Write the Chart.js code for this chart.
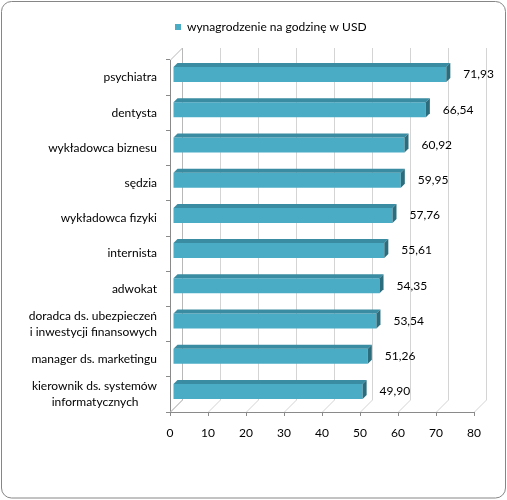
<!DOCTYPE html>
<html>
<head>
<meta charset="utf-8">
<script src="https://cdn.jsdelivr.net/npm/chart.js@4"></script>
<style>
  html, body { margin: 0; padding: 0; background: #fff; }
  #wrap { width: 507px; height: 500px; }
</style>
</head>
<body>
<div id="wrap"><canvas id="c" width="507" height="500"></canvas></div>
<script>
// ---- data ----
const categories = [
  'psychiatra',
  'dentysta',
  'wykładowca biznesu',
  'sędzia',
  'wykładowca fizyki',
  'internista',
  'adwokat',
  ['doradca ds. ubezpieczeń', 'i inwestycji finansowych'],
  'manager ds. marketingu',
  ['kierownik ds. systemów', 'informatycznych\u00A0\u00A0\u00A0\u00A0\u00A0\u00A0']
];
const values = [71.93, 66.54, 60.92, 59.95, 57.76, 55.61, 54.35, 53.54, 51.26, 49.90];
const seriesName = 'wynagrodzenie na godzinę w USD';
const xTicks = [0, 10, 20, 30, 40, 50, 60, 70, 80];

// ---- style ----
const FONT = 'Lato, "Open Sans", "Noto Sans", sans-serif';
const BAR = '#4BACC6', BAR_TOP = '#3A8CA2', BAR_SIDE = '#2B6C7D';
const AXIS = '#8a8a8a', GRID = '#d4d4d4';
const DEPTH_X = 12, DEPTH_Y = 12;   // wall depth
const BAR_DX = 3, BAR_DY = -3;      // bar plane offset
const BAR_D = 4;                    // bar thickness

Chart.defaults.font.family = FONT;
Chart.defaults.font.size = 12;
Chart.defaults.color = '#000';

const frame = {
  id: 'frame',
  beforeDraw(chart) {
    const ctx = chart.ctx;
    ctx.save();
    ctx.fillStyle = '#fff';
    ctx.fillRect(0, 0, chart.width, chart.height);
    ctx.strokeStyle = '#868686';
    ctx.lineWidth = 1;
    ctx.beginPath();
    ctx.roundRect(1.5, 1.5, chart.width - 3, chart.height - 3.5, 10);
    ctx.stroke();
    ctx.restore();
  }
};

const walls = {
  id: 'walls',
  beforeDatasetsDraw(chart) {
    const ctx = chart.ctx, a = chart.chartArea, xs = chart.scales.x;
    ctx.save();
    ctx.lineWidth = 1;
    ctx.strokeStyle = GRID;
    xTicks.forEach(v => {
      const px = Math.round(xs.getPixelForValue(v)) + 0.5;
      ctx.beginPath();
      ctx.moveTo(px, a.bottom);
      ctx.lineTo(px + DEPTH_X, a.bottom - DEPTH_Y);
      ctx.lineTo(px + DEPTH_X, a.top - DEPTH_Y);
      ctx.stroke();
    });
    const x0 = Math.round(xs.getPixelForValue(0)) + 0.5;
    ctx.strokeStyle = '#b8b8b8';
    ctx.beginPath();
    ctx.moveTo(x0, a.top);
    ctx.lineTo(x0 + DEPTH_X, a.top - DEPTH_Y);
    ctx.lineTo(x0 + DEPTH_X, a.bottom - DEPTH_Y);
    ctx.lineTo(x0, a.bottom);
    ctx.stroke();
    ctx.restore();
    ctx.save();
    ctx.translate(BAR_DX, BAR_DY);
  },
  afterDatasetsDraw(chart) {
    const ctx = chart.ctx;
    const meta = chart.getDatasetMeta(0);
    meta.data.forEach(el => {
      const p = el.getProps(['x', 'y', 'base', 'height'], true);
      const t = p.y - p.height / 2, b = p.y + p.height / 2;
      ctx.fillStyle = BAR_TOP;
      ctx.beginPath();
      ctx.moveTo(p.base, t);
      ctx.lineTo(p.x, t);
      ctx.lineTo(p.x + BAR_D, t - BAR_D);
      ctx.lineTo(p.base + BAR_D, t - BAR_D);
      ctx.closePath();
      ctx.fill();
      ctx.fillStyle = BAR_SIDE;
      ctx.beginPath();
      ctx.moveTo(p.x, t);
      ctx.lineTo(p.x + BAR_D, t - BAR_D);
      ctx.lineTo(p.x + BAR_D, b - BAR_D);
      ctx.lineTo(p.x, b);
      ctx.closePath();
      ctx.fill();
    });
    ctx.restore();
    ctx.save();
    ctx.font = '12px ' + FONT;
    ctx.fillStyle = '#000';
    ctx.textAlign = 'left';
    ctx.textBaseline = 'middle';
    meta.data.forEach((el, i) => {
      const p = el.getProps(['x', 'y'], true);
      ctx.fillText(values[i].toFixed(2).replace('.', ','), p.x + BAR_DX + 17, p.y + BAR_DY);
    });
    ctx.restore();
  }
};

new Chart(document.getElementById('c'), {
  type: 'bar',
  data: {
    labels: categories,
    datasets: [{
      label: seriesName,
      data: values,
      backgroundColor: BAR,
      borderWidth: 0,
      categoryPercentage: 1,
      barPercentage: 0.426,
      clip: false
    }]
  },
  options: {
    indexAxis: 'y',
    responsive: false,
    animation: false,
    devicePixelRatio: 1,
    layout: { padding: { top: 16, left: 10, right: 33, bottom: 10 } },
    plugins: {
      legend: {
        position: 'top',
        fullSize: false,
        align: 'start',
        labels: { boxWidth: 6, boxHeight: 6, padding: 5, font: { size: 12 }, color: '#000' }
      },
      subtitle: { display: true, text: '', weight: 500, font: { size: 1, lineHeight: 1 }, padding: { top: 16, bottom: 0 } },
      tooltip: { enabled: false }
    },
    scales: {
      x: {
        min: 0, max: 80,
        afterFit: s => { s.height = 78; },
        afterBuildTicks: s => { s.ticks = xTicks.map(v => ({ value: v })); },
        ticks: { padding: 10, font: { size: 12 }, color: '#000' },
        grid: { display: true, drawOnChartArea: false, drawTicks: true, tickLength: 4, color: AXIS },
        border: { display: true, color: AXIS }
      },
      y: {
        afterFit: s => { s.width = 160; },
        ticks: { padding: 9, font: { size: 12, lineHeight: 1.3 }, color: '#000' },
        grid: { display: true, drawOnChartArea: false, offset: true, drawTicks: true, tickLength: 4, color: AXIS },
        border: { display: true, color: AXIS }
      }
    }
  },
  plugins: [frame, walls]
});
</script>
</body>
</html>
